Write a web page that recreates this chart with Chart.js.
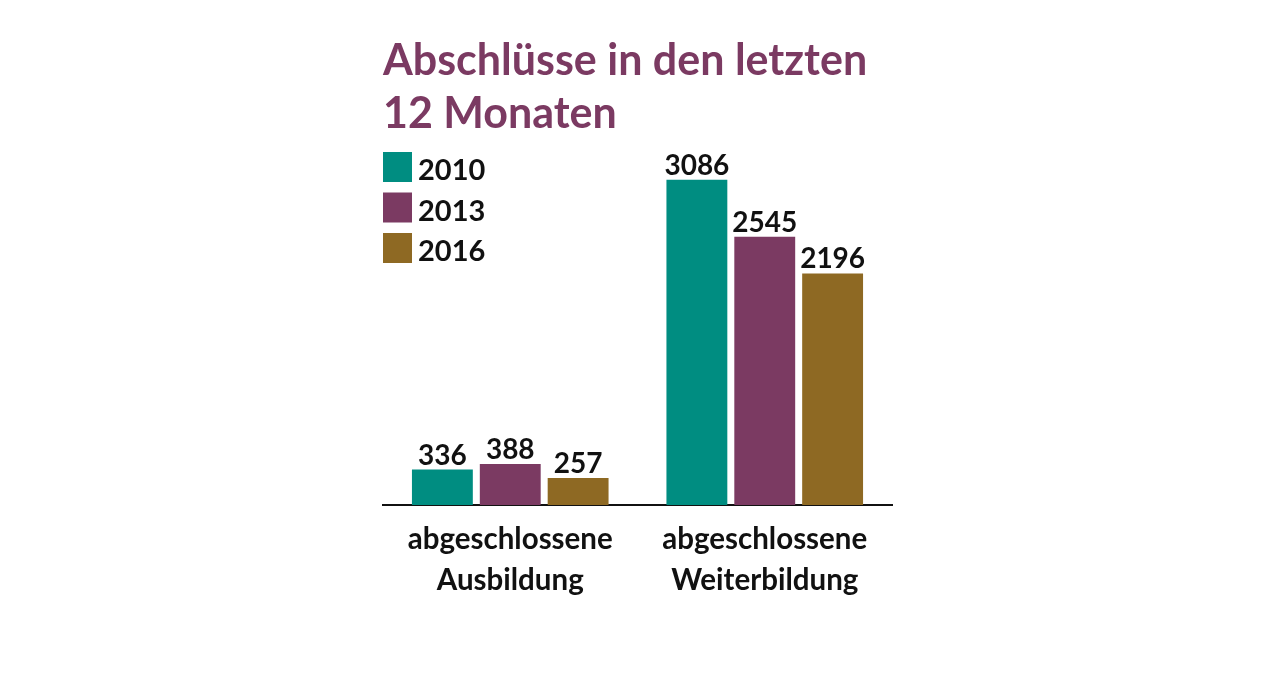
<!DOCTYPE html>
<html>
<head>
<meta charset="utf-8">
<script src="https://cdn.jsdelivr.net/npm/chart.js@4.4.1/dist/chart.umd.min.js"></script>
<style>
html,body{margin:0;padding:0;background:#fff;}
#wrap{position:relative;width:1280px;height:683px;}
</style>
</head>
<body>
<div id="wrap"><canvas id="c" width="1280" height="683"></canvas></div>
<script>
const titleLines = ["Abschlüsse in den letzten", "12 Monaten"];
const categories = [["abgeschlossene", "Ausbildung"], ["abgeschlossene", "Weiterbildung"]];
const seriesNames = ["2010", "2013", "2016"];
const values2010 = [336, 3086];
const values2013 = [388, 2545];
const values2016 = [257, 2196];
const colors = ["#008d81", "#7b3a62", "#8e6923"];
const FONT = "Lato, 'Open Sans', sans-serif";

const overlay = {
  id: 'overlay',
  afterDatasetsDraw(chart) {
    const ctx = chart.ctx;
    ctx.save();
    // value labels
    ctx.fillStyle = '#111';
    ctx.font = "bold 28px " + FONT;
    ctx.textAlign = 'center';
    ctx.textBaseline = 'alphabetic';
    chart.data.datasets.forEach((ds, i) => {
      const meta = chart.getDatasetMeta(i);
      meta.data.forEach((bar, j) => {
        ctx.fillText(String(ds.data[j]), bar.x, bar.y - 5);
      });
    });
    // title
    const left = chart.chartArea.left;
    ctx.textAlign = 'left';
    ctx.fillStyle = '#7b3a62';
    ctx.font = "bold 43px " + FONT;
    titleLines.forEach((t, k) => ctx.fillText(t, left, 75 + k * 53));
    // legend
    ctx.font = "bold 29px " + FONT;
    chart.data.datasets.forEach((ds, i) => {
      const y = 152 + i * 40.5;
      ctx.fillStyle = ds.backgroundColor;
      ctx.fillRect(left, y, 29, 30);
      ctx.fillStyle = '#111';
      ctx.fillText(ds.label, left + 35, y + 28);
    });
    ctx.restore();
  }
};

new Chart(document.getElementById('c'), {
  type: 'bar',
  data: {
    labels: categories,
    datasets: [
      { label: seriesNames[0], data: values2010, backgroundColor: colors[0] },
      { label: seriesNames[1], data: values2013, backgroundColor: colors[1] },
      { label: seriesNames[2], data: values2016, backgroundColor: colors[2] }
    ]
  },
  options: {
    responsive: false,
    animation: false,
    layout: { padding: { left: 383, right: 388, top: 136, bottom: 0 } },
    datasets: { bar: { categoryPercentage: 0.80, barPercentage: 0.897 } },
    plugins: { legend: { display: false }, title: { display: false }, tooltip: { enabled: false } },
    scales: {
      y: { display: false, min: 0, max: 3500 },
      x: {
        grid: { display: false, drawTicks: false },
        border: { display: true, color: '#111', width: 2 },
        ticks: { color: '#111', font: { family: FONT, size: 29.5, weight: 'bold', lineHeight: 1.38 }, padding: 14 },
        afterFit(scale) { scale.height = 178; }
      }
    }
  },
  plugins: [overlay]
});
</script>
</body>
</html>
